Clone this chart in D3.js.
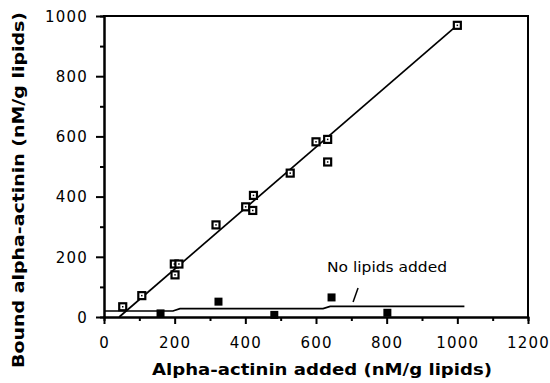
<!DOCTYPE html>
<html>
<head>
<meta charset="utf-8">
<script src="https://cdn.jsdelivr.net/npm/d3@7"></script>
<style>
  body { margin: 0; background: #fff; }
  svg { display: block; }
  text { font-family: "DejaVu Sans", sans-serif; fill: #000; }
</style>
</head>
<body>
<svg id="chart" width="550" height="383"></svg>
<script>
// open squares: with lipids
var withLipidsX = [53, 107, 201, 199, 212, 317, 401, 423, 421, 527, 600, 633, 633, 1000];
var withLipidsY = [34, 71, 140, 176, 176, 306, 366, 404, 354, 478, 582, 590, 515, 969];
// filled squares: no lipids
var noLipidsX = [160, 324, 482, 644, 802];
var noLipidsY = [12, 51, 7, 65, 14];
// fitted line (with lipids)
var fitX = [43, 1000];
var fitY = [0, 970];
// control line (no lipids), drawn as steps
var ctrlX = [0, 195, 215, 620, 640, 1020];
var ctrlY = [20, 20, 28, 28, 35, 35];

var xTicks = [0, 200, 400, 600, 800, 1000, 1200];
var xMinor = [100, 300, 500, 700, 900, 1100];
var yTicks = [0, 200, 400, 600, 800, 1000];
var yMinor = [100, 300, 500, 700, 900];

var svg = d3.select('#chart');
var x = d3.scaleLinear().domain([0, 1200]).range([104, 528]);
var y = d3.scaleLinear().domain([0, 1000]).range([317, 16]);

function styleAxis(g){
	g.selectAll('path,line').attr('stroke', '#000').attr('stroke-width', 2);
	g.selectAll('text')
	 .style('font-size', '15px')
	 .style('letter-spacing', '1.2px')
	 .attr('fill', '#000');
}

// minor ticks
svg.append('g')
   .attr('transform', 'translate(0,' + y(0) + ')')
   .call(d3.axisBottom(x).tickValues(xMinor).tickSize(4).tickFormat(''))
   .call(styleAxis);
svg.append('g')
   .attr('transform', 'translate(' + x(0) + ',0)')
   .call(d3.axisLeft(y).tickValues(yMinor).tickSize(4).tickFormat(''))
   .call(styleAxis);

// major ticks
svg.append('g')
   .attr('transform', 'translate(0,' + y(0) + ')')
   .call(d3.axisBottom(x).tickValues(xTicks).tickSize(7).tickSizeOuter(0).tickPadding(13).tickFormat(d3.format('d')))
   .call(styleAxis);
svg.append('g')
   .attr('transform', 'translate(' + x(0) + ',0)')
   .call(d3.axisLeft(y).tickValues(yTicks).tickSize(8).tickSizeOuter(0).tickPadding(8).tickFormat(d3.format('d')))
   .call(styleAxis)
   .selectAll('text').attr('dy', '0.35em');

// frame top and right
svg.append('path')
   .attr('d', 'M' + (x(0) - 1) + ',' + y(1000) + 'H' + x(1200) + 'V' + y(0))
   .attr('fill', 'none')
   .attr('stroke', '#000')
   .attr('stroke-width', 2);

var line = d3.line().x(d => x(d[0])).y(d => y(d[1]));

svg.append('path')
   .datum(d3.zip(fitX, fitY))
   .attr('d', line)
   .attr('fill', 'none')
   .attr('stroke', '#000')
   .attr('stroke-width', 1.7);

svg.append('path')
   .datum(d3.zip(ctrlX, ctrlY))
   .attr('d', line)
   .attr('fill', 'none')
   .attr('stroke', '#000')
   .attr('stroke-width', 1.7);

// open squares
var open = svg.append('g').selectAll('g')
   .data(d3.zip(withLipidsX, withLipidsY))
   .enter()
   .append('g')
   .attr('transform', d => 'translate(' + x(d[0]) + ',' + y(d[1]) + ')');
open.append('rect')
    .attr('x', -3.5).attr('y', -3.5)
    .attr('width', 7).attr('height', 7)
    .attr('fill', '#fff')
    .attr('stroke', '#000')
    .attr('stroke-width', 2.2);
open.append('rect')
    .attr('x', -0.75).attr('y', -0.75)
    .attr('width', 1.5).attr('height', 1.5)
    .attr('fill', '#000');

// filled squares
svg.append('g').selectAll('rect')
   .data(d3.zip(noLipidsX, noLipidsY))
   .enter()
   .append('rect')
   .attr('x', d => x(d[0]) - 4)
   .attr('y', d => y(d[1]) - 4)
   .attr('width', 8).attr('height', 8)
   .attr('fill', '#000');

// annotation
svg.append('text')
   .attr('x', 327).attr('y', 272)
   .attr('textLength', 120)
   .attr('lengthAdjust', 'spacingAndGlyphs')
   .style('font-size', '14px')
   .text('No lipids added');
svg.append('line')
   .attr('x1', x(705)).attr('y1', y(50))
   .attr('x2', x(719)).attr('y2', y(96))
   .attr('stroke', '#000')
   .attr('stroke-width', 1.5);

// axis titles
svg.append('text')
   .attr('x', 322).attr('y', 375)
   .attr('text-anchor', 'middle')
   .attr('textLength', 340)
   .attr('lengthAdjust', 'spacingAndGlyphs')
   .style('font-size', '16px')
   .style('font-weight', 'bold')
   .text('Alpha-actinin added (nM/g lipids)');
svg.append('text')
   .attr('transform', 'translate(24,190) rotate(-90)')
   .attr('text-anchor', 'middle')
   .attr('textLength', 356)
   .attr('lengthAdjust', 'spacingAndGlyphs')
   .style('font-size', '16px')
   .style('font-weight', 'bold')
   .text('Bound alpha-actinin (nM/g lipids)');
</script>
</body>
</html>
